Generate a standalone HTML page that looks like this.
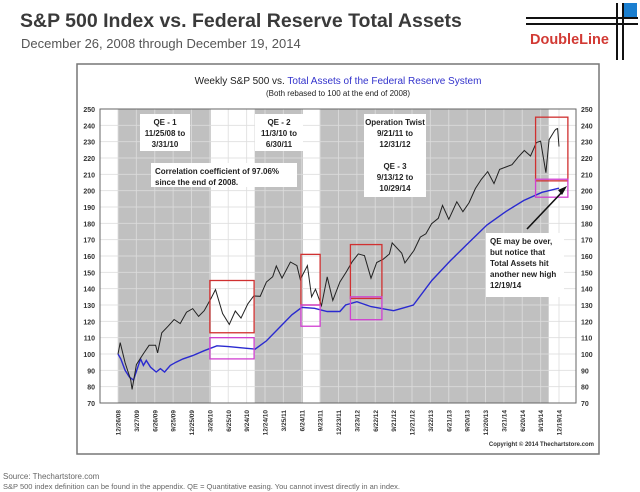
<!DOCTYPE html>
<html><head><meta charset="utf-8">
<style>
body{margin:0;width:640px;height:492px;background:#fff;overflow:hidden;font-family:"Liberation Sans",sans-serif;position:relative}
.t{position:absolute;white-space:nowrap}
</style></head>
<body>
<div class="t" style="left:20px;top:10px;font-size:19.5px;font-weight:bold;color:#3a3a3a">S&amp;P 500 Index vs. Federal Reserve Total Assets</div>
<div class="t" style="left:21px;top:36px;font-size:13px;color:#555">December 26, 2008 through December 19, 2014</div>
<div>
<svg style="position:absolute;left:520px;top:0" width="120" height="62">
<line x1="6" y1="18" x2="118" y2="18" stroke="#111" stroke-width="2"/>
<line x1="6" y1="24" x2="118" y2="24" stroke="#111" stroke-width="2"/>
<line x1="97" y1="3" x2="97" y2="60" stroke="#111" stroke-width="2"/>
<line x1="103" y1="3" x2="103" y2="60" stroke="#111" stroke-width="2"/>
<rect x="104" y="3" width="13" height="14" fill="#1a7fd0"/>
<text x="10" y="44" font-size="14.5" font-weight="bold" fill="#d23a34" font-family="Liberation Sans, sans-serif">DoubleLine</text>
</svg></div>
<svg id="chart" style="position:absolute;left:0;top:0" width="640" height="492" font-family="Liberation Sans, sans-serif"></svg>
<div class="t" style="left:3px;top:472px;font-size:8px;color:#666">Source: Thechartstore.com</div>
<div class="t" style="left:3px;top:482px;font-size:7.5px;color:#666">S&amp;P 500 index definition can be found in the appendix. QE = Quantitative easing. You cannot invest directly in an index.</div>
<script>
const spDates=["2008-12-26","2009-01-06","2009-01-30","2009-02-27","2009-03-06","2009-03-27","2009-04-30","2009-05-29","2009-06-30","2009-07-10","2009-07-31","2009-08-31","2009-09-30","2009-10-30","2009-11-30","2009-12-31","2010-01-29","2010-02-26","2010-03-31","2010-04-23","2010-05-28","2010-06-30","2010-07-30","2010-08-27","2010-09-30","2010-10-29","2010-11-30","2010-12-31","2011-01-31","2011-02-18","2011-03-18","2011-04-29","2011-05-31","2011-06-17","2011-07-22","2011-08-12","2011-08-31","2011-09-30","2011-10-28","2011-11-25","2011-12-30","2012-01-31","2012-02-29","2012-03-30","2012-04-30","2012-06-01","2012-06-29","2012-07-31","2012-08-31","2012-09-14","2012-10-31","2012-11-16","2012-12-31","2013-01-31","2013-02-28","2013-03-28","2013-04-30","2013-05-21","2013-06-21","2013-07-31","2013-08-30","2013-09-30","2013-10-31","2013-11-29","2013-12-31","2014-01-31","2014-02-28","2014-03-31","2014-04-30","2014-05-30","2014-06-30","2014-07-31","2014-08-29","2014-09-19","2014-10-15","2014-10-31","2014-11-28","2014-12-05","2014-12-12","2014-12-19"];
const spValues=[100,107,94.6,84.2,78.3,93.5,100,105.3,105.3,100.7,113,117,121.1,118.7,125.6,127.8,123,126.5,133.9,139.4,124.8,118.1,126.3,122,130.7,135.5,135.3,144.1,147.3,153.9,146.5,156.3,154.1,145.7,154.1,135,139.7,129.6,147.2,132.8,144.1,150.3,156.5,161.3,160.2,146.4,156,158,161.2,168,161.8,155.8,163.4,171.6,173.6,179.8,183.1,191,182.5,193.2,187.1,192.7,201.3,206.9,211.7,204.3,213,214.5,215.9,220.4,224.6,221.2,229.5,230.3,211,231.2,236.9,237.7,238,227];
const fedDates=["2008-12-26","2009-01-09","2009-01-30","2009-02-20","2009-03-13","2009-04-03","2009-04-17","2009-05-01","2009-05-15","2009-06-05","2009-07-03","2009-07-24","2009-08-14","2009-09-11","2009-10-09","2009-11-13","2009-12-31","2010-02-26","2010-04-30","2010-06-25","2010-09-24","2010-11-05","2010-12-31","2011-03-04","2011-05-06","2011-06-24","2011-08-26","2011-10-28","2011-12-30","2012-01-27","2012-03-23","2012-06-01","2012-09-21","2012-11-02","2012-12-28","2013-03-29","2013-06-28","2013-09-27","2013-12-27","2014-03-28","2014-06-27","2014-09-26","2014-12-19"];
const fedValues=[100,97,90,86,84,92,97,93,96,92,89,91,89,93,95,97,99,102,105,104.5,103.5,103,108,116,124,128.5,128,126,126,130,132,129,126.5,128,130,145,157,168,179,187,194,199,201.5];
const yTicks=[70,80,90,100,110,120,130,140,150,160,170,180,190,200,210,220,230,240,250];
const xTickLabels=["12/26/08","3/27/09","6/26/09","9/25/09","12/25/09","3/26/10","6/25/10","9/24/10","12/24/10","3/25/11","6/24/11","9/23/11","12/23/11","3/23/12","6/22/12","9/21/12","12/21/12","3/22/13","6/21/13","9/20/13","12/20/13","3/21/14","6/20/14","9/19/14","12/19/14"];
const qePeriods=[["2008-12-26","2010-03-31"],["2010-11-03","2011-06-30"],["2011-09-21","2014-10-29"]];

const NS="http://www.w3.org/2000/svg";
const svg=document.getElementById('chart');
const D0=Date.parse("2008-12-26"),D1=Date.parse("2014-12-19");
const PL=100,PR=576,PT=109,PB=403;
function xs(d){return 118+(Date.parse(d)-D0)/(D1-D0)*441;}
function ys(v){return PB-(v-70)/180*(PB-PT);}
function mk(tag,attrs,parent){const e=document.createElementNS(NS,tag);for(const k in attrs)e.setAttribute(k,attrs[k]);(parent||svg).appendChild(e);return e;}

const panel=mk('rect',{x:77,y:64,width:522,height:390,fill:'#fff',stroke:'#777','stroke-width':1.5});


const ti=mk('text',{x:338,y:84,'font-size':10,'text-anchor':'middle',fill:'#222'});


ti.innerHTML='Weekly S&amp;P 500 vs. <tspan fill="#3333cc">Total Assets of the Federal Reserve System</tspan>';
const st=mk('text',{x:338,y:96,'font-size':8,'text-anchor':'middle',fill:'#222'});
st.textContent='(Both rebased to 100 at the end of 2008)';



qePeriods.forEach((p,i)=>{const r=mk('rect',{x:xs(p[0]),y:PT,width:xs(p[1])-xs(p[0]),height:PB-PT,fill:'#c0c0c0'});

});

yTicks.forEach(v=>{const y=ys(v);
mk('line',{x1:PL,x2:PR,y1:y,y2:y,stroke:'#ddd','stroke-width':1,opacity:0.8});
const l=mk('text',{x:95,y:y+3,'font-size':7,'text-anchor':'end',fill:'#333','font-weight':'bold'});l.textContent=v;


const r=mk('text',{x:581,y:y+3,'font-size':7,fill:'#333','font-weight':'bold'});r.textContent=v;

});
xTickLabels.forEach((lab,i)=>{const x=118+i*441/24;
mk('line',{x1:x,x2:x,y1:PT,y2:PB,stroke:'#ddd','stroke-width':1,opacity:0.8});
const t=mk('text',{x:0,y:0,'font-size':6.5,'font-weight':'bold','text-anchor':'end',fill:'#333',transform:`translate(${x+2.5},410) rotate(-90)`});t.textContent=lab;

});
mk('rect',{x:PL,y:PT,width:PR-PL,height:PB-PT,fill:'none',stroke:'#666','stroke-width':1});

function line(dates,vals,color,w,name){const p=mk('polyline',{points:dates.map((d,i)=>xs(d).toFixed(1)+','+ys(vals[i]).toFixed(1)).join(' '),fill:'none',stroke:color,'stroke-width':w});

}
line(fedDates,fedValues,'#2a2ad0',1.4,'fed-assets-line');
line(spDates,spValues,'#222',1,'sp500-line');

function box(d0,d1,v0,v1,c,name){const b=mk('rect',{x:xs(d0),y:ys(v1),width:xs(d1)-xs(d0),height:ys(v0)-ys(v1),fill:'none',stroke:c,'stroke-width':1.3});

}
box("2010-03-26","2010-10-31",113,145,'#d03030','highlight-box-sp-2010');
box("2010-03-26","2010-10-31",97,110,'#d040d0','highlight-box-fed-2010');
box("2011-06-20","2011-09-23",130,161,'#d03030','highlight-box-sp-2011');
box("2011-06-20","2011-09-23",117,130,'#d040d0','highlight-box-fed-2011');
box("2012-02-20","2012-07-25",134,167,'#d03030','highlight-box-sp-2012');
box("2012-02-20","2012-07-25",121,135,'#d040d0','highlight-box-fed-2012');
box("2014-08-25","2015-02-01",206,245,'#d03030','highlight-box-sp-2014');
box("2014-08-25","2015-02-01",196,207,'#d040d0','highlight-box-fed-2014');

function note(x,y,w,h,lines,name,anchor){const g=mk('g',{});


mk('rect',{x,y,width:w,height:h,fill:'#fff'},g);
lines.forEach((l,i)=>{const t=mk('text',{x:anchor==='start'?x+4:x+w/2,y:y+11+i*11,'font-size':8,'font-weight':'bold','text-anchor':anchor||'middle',fill:'#222'},g);t.textContent=l;});}
note(140,114,50,37,["QE - 1","11/25/08 to","3/31/10"],'qe1-note');
note(255,114,48,37,["QE - 2","11/3/10 to","6/30/11"],'qe2-note');
note(151,163,146,24,["Correlation coefficient of 97.06%","since the end of 2008."],'correlation-note','start');
note(364,114,62,83,["Operation Twist","9/21/11 to","12/31/12","","QE - 3","9/13/12 to","10/29/14"],'twist-qe3-note');
note(486,233,78,64,["QE may be over,","but notice that","Total Assets hit","another new high","    12/19/14"],'fed-high-note','start');
const ar=mk('line',{x1:527,y1:229,x2:564,y2:190,stroke:'#111','stroke-width':1.6});


mk('polygon',{points:'567,186 558,190 562,195',fill:'#111'});
const cp=mk('text',{x:594,y:446,'font-size':6,'font-weight':'bold','text-anchor':'end',fill:'#333'});
cp.textContent='Copyright © 2014 Thechartstore.com';


</script>
</body></html>
